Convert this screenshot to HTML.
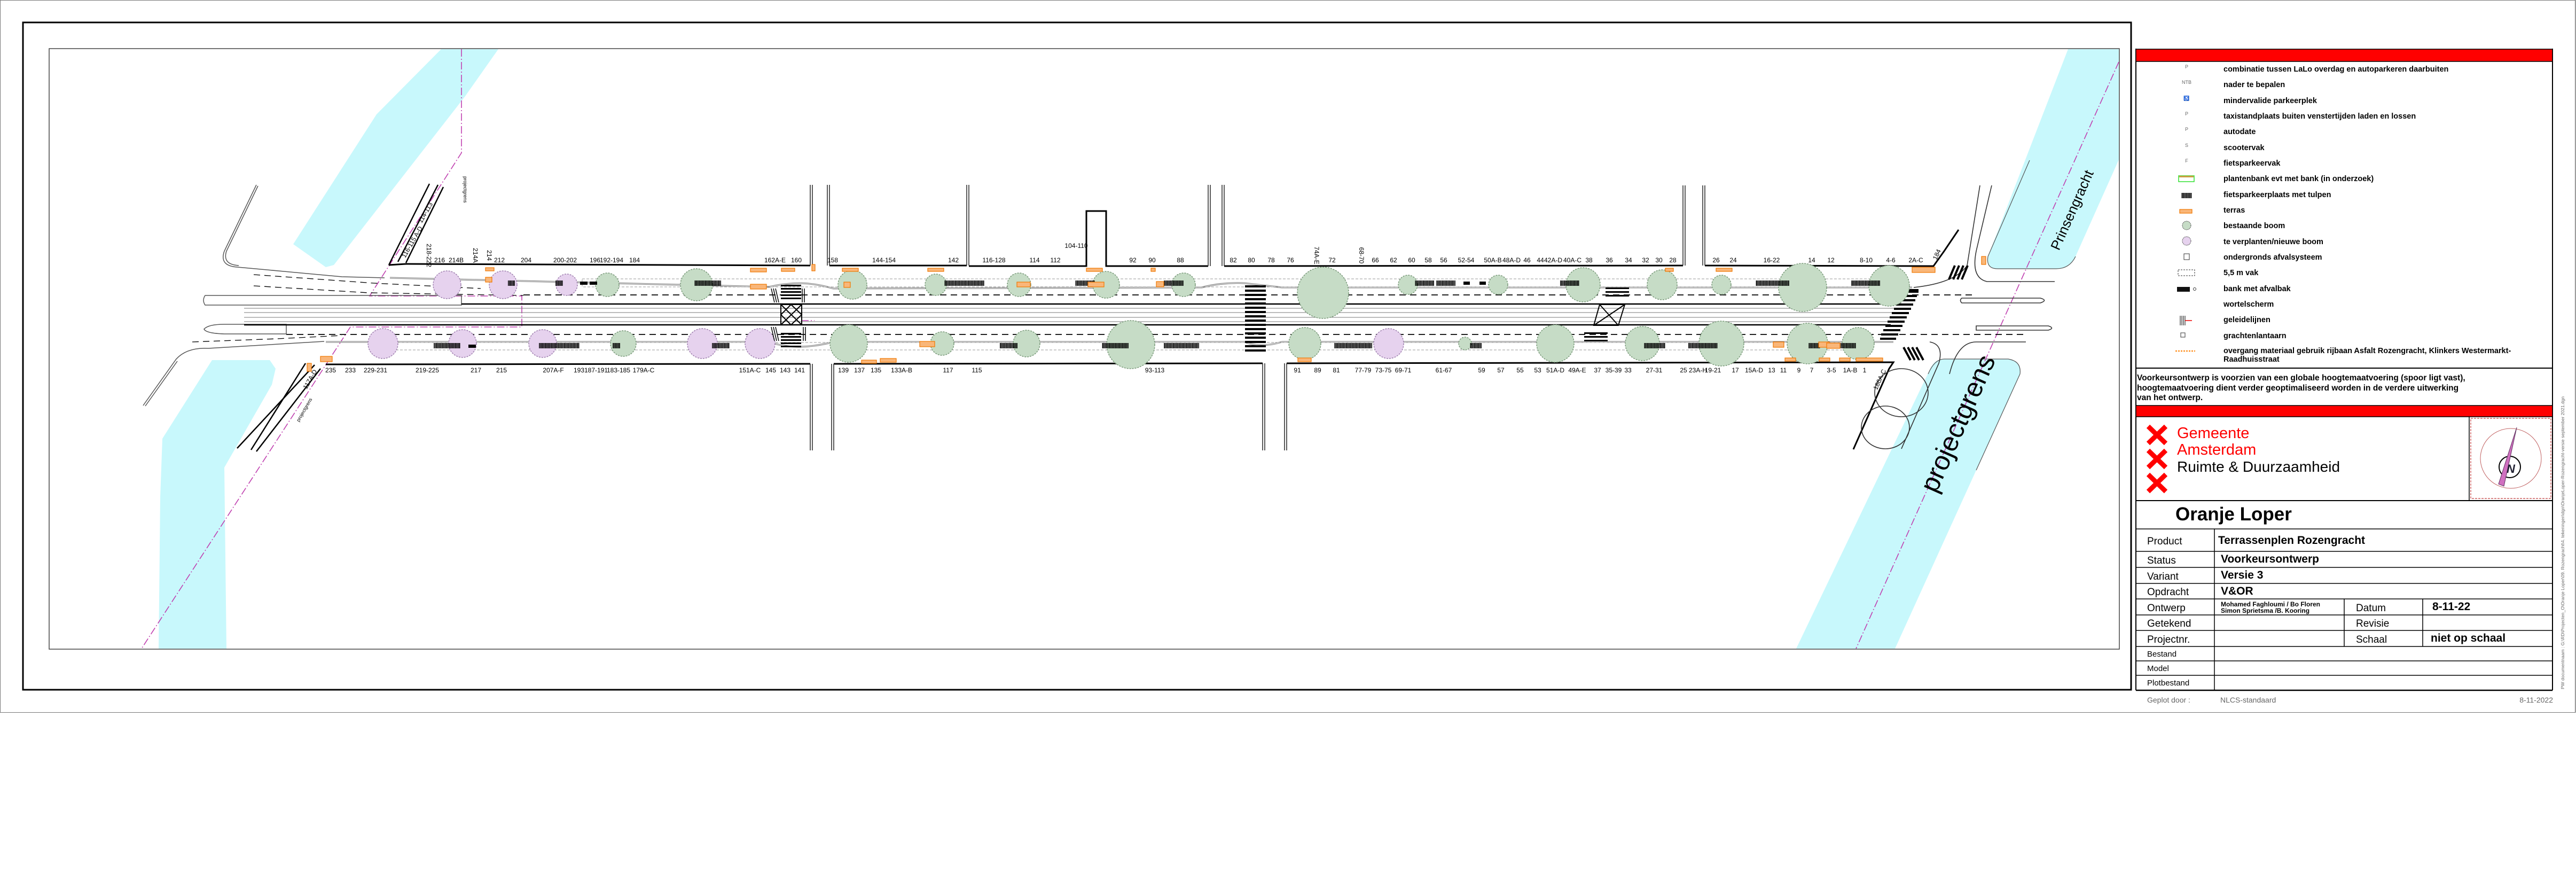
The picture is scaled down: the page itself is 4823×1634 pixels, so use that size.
<!DOCTYPE html>
<html><head><meta charset="utf-8"><style>
html,body{margin:0;padding:0;background:#fff;}
svg{display:block;}
text{font-family:"Liberation Sans",sans-serif;}
</style></head><body>
<svg width="4823" height="1634" viewBox="0 0 4823 1634" xmlns="http://www.w3.org/2000/svg">
<defs>
<pattern id="bars" width="2.4" height="10" patternUnits="userSpaceOnUse"><rect width="1.8" height="10" fill="#000"/></pattern>
</defs>
<!-- page borders -->
<rect x="0.5" y="0.5" width="4821" height="1333" fill="none" stroke="#777" stroke-width="1"/>
<rect x="43" y="42" width="3947" height="1249" fill="none" stroke="#000" stroke-width="3"/>
<rect x="92" y="91" width="3876" height="1124" fill="none" stroke="#444" stroke-width="1.5"/>

<!-- canals -->
<g fill="#c8f8fc">
<polygon points="826,92 933,92 871,180 625,496 610,500 549,457 705,214"/>
<polygon points="397,674 505,674 516,690 509,720 420,875 424,1214 297,1214 300,930 304,821"/>
<path d="M3872,92 L3967,92 L3967,299 L3886,480 Q3875,503 3850,503 L3740,503 Q3718,503 3722,480 Z"/>
<path d="M3640,672 L3760,672 Q3785,676 3782,700 L3548,1214 L3363,1214 L3614,690 Q3622,672 3640,672 Z"/>
</g>
<g fill="none" stroke="#555" stroke-width="1.2">
<path d="M3886,480 Q3875,503 3850,503 L3740,503 Q3718,503 3722,480 L3800,300"/>
<path d="M3610,700 Q3622,672 3640,672 L3760,672 Q3785,676 3782,700 L3700,880"/>
</g>

<!-- project boundary -->
<g fill="none" stroke="#c040b0" stroke-width="1.6" stroke-dasharray="14,4,2,4">
<polyline points="864,92 864,286 692,554 977,554 977,612 656,612 265,1214"/>
<polyline points="3967,116 3475,1214"/>
<line x1="1500" y1="600" x2="1525" y2="600"/>
</g>

<!-- west road curves -->
<g fill="none" stroke="#555" stroke-width="1.5">
<path d="M480,346 L420,470 Q410,498 445,500 L640,518 L720,520"/>
<path d="M483,348 L424,470 Q416,495 447,497"/>
<path d="M268,759 L330,672 Q350,650 390,652 L607,639"/>
<path d="M272,760 L332,676"/>
<path d="M384,553 L864,553 L864,571 L384,571 Q378,562 384,553 Z"/>
<path d="M382,616 Q390,607 420,607 L536,607 L536,625 L420,625 Q386,624 382,616 Z"/>
</g>
<g stroke="#000" stroke-width="2.5">
<line x1="728" y1="496" x2="804" y2="344"/><line x1="745" y1="490" x2="820" y2="346"/><line x1="760" y1="492" x2="830" y2="350"/>
<line x1="589" y1="683" x2="444" y2="839"/><line x1="572" y1="680" x2="470" y2="842"/><line x1="600" y1="690" x2="480" y2="845"/>
</g>
<g stroke="#000" stroke-width="1.3" fill="none" stroke-dasharray="12,8">
<path d="M475,514 L700,530 L900,540"/>
<path d="M475,535 L690,548 L980,553"/>
<path d="M360,640 L520,634 L640,628"/>
</g>

<!-- building lines -->
<g stroke="#000" stroke-width="3" fill="none">
<polyline points="728,496 760,494 1517,497"/>
<polyline points="1553,497 1810,497"/>
<polyline points="1814,498 2034,498 2034,395 2071,395 2071,498 2262,498"/>
<polyline points="2292,498 3151,497"/>
<polyline points="3192,497 3620,498 3640,470 3667,430"/>
<polyline points="610,682 1517,681"/>
<polyline points="1561,681 2364,680"/>
<polyline points="2409,680 3545,678 3537,690 3470,841"/>
</g>
<!-- side streets -->
<g stroke="#333" stroke-width="1.6" fill="none">
<line x1="1517" y1="346" x2="1517" y2="497"/><line x1="1521" y1="346" x2="1521" y2="497"/><line x1="1553" y1="346" x2="1553" y2="497"/><line x1="1549" y1="346" x2="1549" y2="497"/>
<line x1="1517" y1="681" x2="1517" y2="843"/><line x1="1521" y1="681" x2="1521" y2="843"/><line x1="1561" y1="681" x2="1561" y2="843"/><line x1="1557" y1="681" x2="1557" y2="843"/>
<line x1="1810" y1="346" x2="1810" y2="497"/><line x1="1814" y1="346" x2="1814" y2="497"/>
<line x1="2262" y1="346" x2="2262" y2="498"/><line x1="2266" y1="346" x2="2266" y2="498"/><line x1="2292" y1="346" x2="2292" y2="498"/><line x1="2288" y1="346" x2="2288" y2="498"/>
<line x1="2364" y1="680" x2="2364" y2="843"/><line x1="2368" y1="680" x2="2368" y2="843"/><line x1="2409" y1="680" x2="2409" y2="843"/><line x1="2405" y1="680" x2="2405" y2="843"/>
<line x1="3151" y1="347" x2="3151" y2="497"/><line x1="3155" y1="347" x2="3155" y2="497"/><line x1="3192" y1="347" x2="3192" y2="497"/><line x1="3188" y1="347" x2="3188" y2="497"/>
<path d="M3583,538 Q3660,530 3683,497 L3707,347"/><path d="M3729,347 L3700,470 Q3690,520 3720,527 L3847,527"/>
<path d="M3613,640 Q3640,645 3630,680 L3560,840"/><path d="M3650,700 Q3665,640 3700,640 L3793,640"/>
<path d="M3673,558 L3820,558 Q3835,562 3820,567 L3673,567 Q3668,562 3673,558 Z"/>
<path d="M3700,610 L3835,610 Q3848,614 3835,618 L3700,618 Z"/>
<ellipse cx="3560" cy="735" rx="50" ry="45"/><ellipse cx="3530" cy="800" rx="45" ry="40"/>
</g>

<!-- main carriageway -->
<g fill="none">
<path d="M730,520 L1440,537 Q1470,530 1500,530 Q1530,531 1560,540 L2250,538 Q2290,528 2330,530 L2400,538 L3580,538" stroke="#777" stroke-width="3"/>
<path d="M730,520 L1440,537 Q1470,530 1500,530 Q1530,531 1560,540 L2250,538 Q2290,528 2330,530 L2400,538 L3580,538" stroke="#fff" stroke-width="1"/>
<path d="M610,640 L1440,640 Q1470,650 1500,649 Q1530,648 1560,640 L2330,640 Q2360,652 2400,640 L3545,640" stroke="#777" stroke-width="3"/>
<path d="M610,640 L1440,640 Q1470,650 1500,649 Q1530,648 1560,640 L2330,640 Q2360,652 2400,640 L3545,640" stroke="#fff" stroke-width="1"/>
<line x1="980" y1="552" x2="3700" y2="552" stroke="#000" stroke-width="1.8" stroke-dasharray="12,8"/>
<line x1="536" y1="626" x2="3790" y2="626" stroke="#000" stroke-width="1.8" stroke-dasharray="12,8"/>
<line x1="864" y1="569" x2="3560" y2="569" stroke="#000" stroke-width="2.5"/>
<line x1="457" y1="608" x2="3540" y2="608" stroke="#000" stroke-width="2.5"/>
<g stroke="#777" stroke-width="1">
<line x1="457" y1="577" x2="3560" y2="577"/><line x1="457" y1="585" x2="3560" y2="585"/>
<line x1="457" y1="594" x2="3560" y2="594"/><line x1="457" y1="602" x2="3560" y2="602"/>
</g>
<g stroke="#999" stroke-width="1" stroke-dasharray="5,3">
<rect x="1090" y="522" width="2420" height="15"/>
<rect x="740" y="641" width="2760" height="14"/>
</g>
</g>

<!-- crossings -->
<g fill="#000">
<g id="z1"><rect x="1462" y="533" width="38" height="3"/><rect x="1462" y="539" width="38" height="3"/><rect x="1462" y="545" width="38" height="3"/><rect x="1462" y="551" width="38" height="3"/><rect x="1462" y="557" width="38" height="3"/></g>
<use href="#z1" y="90"/>
<g id="z2"><rect x="2331" y="534" width="39" height="4"/><rect x="2331" y="542" width="39" height="4"/><rect x="2331" y="550" width="39" height="4"/><rect x="2331" y="558" width="39" height="4"/></g>
<use href="#z2" y="32"/><use href="#z2" y="64"/><use href="#z2" y="96"/>
<rect x="3006" y="538" width="44" height="3"/><rect x="3006" y="545" width="44" height="3"/><rect x="3006" y="552" width="44" height="3"/>
<rect x="2966" y="622" width="44" height="3"/><rect x="2966" y="629" width="44" height="3"/><rect x="2966" y="636" width="44" height="3"/>
</g>
<g stroke="#000" stroke-width="2" fill="none">
<rect x="1462" y="570" width="39" height="38"/><path d="M1462,570 L1501,608 M1501,570 L1462,608 M1481,570 L1501,589 L1481,608 L1462,589 Z"/>
<path d="M2995,570 L3042,570 L3030,609 L2984,609 Z M2995,570 L3030,609 M3042,570 L2984,609"/>
</g>
<g stroke="#000" stroke-width="4">
<line x1="3592" y1="543" x2="3560" y2="543"/>
<path d="M3562,546 L3592,546 M3558,554 L3589,554 M3554,562 L3586,562 M3550,570 L3582,570 M3546,578 L3578,578 M3542,586 L3574,586 M3538,594 L3570,594 M3534,602 L3566,602 M3530,610 L3562,610 M3526,618 L3558,618 M3522,626 L3554,626 M3520,634 L3550,634"/>
<path d="M3657,523 L3668,497 M3665,523 L3676,497 M3673,523 L3684,497 M3649,523 L3660,497"/>
<path d="M3564,650 L3577,674 M3572,650 L3585,674 M3580,650 L3593,674 M3588,650 L3601,674"/>
</g>

<!-- trees -->
<g stroke="#7a9a7a" stroke-width="1.5" stroke-dasharray="3,2" fill="#c6dcc6">
<circle cx="1137" cy="533" r="22"/><circle cx="1304" cy="533" r="30"/><circle cx="1596" cy="533" r="27"/><circle cx="1752" cy="533" r="20"/><circle cx="1908" cy="533" r="22"/><circle cx="2071" cy="533" r="25"/><circle cx="2216" cy="533" r="22"/><circle cx="2477" cy="548" r="48"/><circle cx="2636" cy="533" r="18"/><circle cx="2805" cy="533" r="18"/><circle cx="2964" cy="533" r="32"/><circle cx="3112" cy="533" r="28"/><circle cx="3223" cy="533" r="18"/><circle cx="3375" cy="538" r="45"/><circle cx="3537" cy="535" r="38"/>
<circle cx="1167" cy="643" r="24"/><circle cx="1589" cy="643" r="35"/><circle cx="1764" cy="643" r="22"/><circle cx="1922" cy="643" r="25"/><circle cx="2117" cy="645" r="45"/><circle cx="2443" cy="643" r="30"/><circle cx="2743" cy="643" r="12"/><circle cx="2912" cy="643" r="35"/><circle cx="3075" cy="643" r="32"/><circle cx="3223" cy="643" r="42"/><circle cx="3384" cy="643" r="38"/><circle cx="3479" cy="643" r="30"/>
</g>
<g stroke="#a080b0" stroke-width="1.5" stroke-dasharray="3,2" fill="#e6d2ee">
<circle cx="837" cy="533" r="26"/><circle cx="942" cy="533" r="26"/><circle cx="1061" cy="533" r="20"/>
<circle cx="717" cy="643" r="28"/><circle cx="866" cy="643" r="26"/><circle cx="1016" cy="643" r="26"/><circle cx="1315" cy="643" r="28"/><circle cx="1423" cy="643" r="28"/><circle cx="2600" cy="643" r="28"/>
</g>

<!-- bike parking bars -->
<g fill="url(#bars)">
<rect x="951" y="525" width="13" height="10"/><rect x="1040" y="525" width="14" height="10"/><rect x="1300" y="525" width="50" height="10"/><rect x="1768" y="525" width="75" height="10"/><rect x="2013" y="525" width="37" height="10"/><rect x="2179" y="525" width="37" height="10"/><rect x="2649" y="525" width="36" height="10"/><rect x="2689" y="525" width="36" height="10"/><rect x="2921" y="525" width="36" height="10"/><rect x="3287" y="525" width="63" height="10"/><rect x="3466" y="525" width="54" height="10"/>
<rect x="812" y="642" width="50" height="10"/><rect x="1009" y="642" width="76" height="10"/><rect x="1147" y="642" width="14" height="10"/><rect x="1333" y="642" width="33" height="10"/><rect x="1872" y="642" width="33" height="10"/><rect x="2063" y="642" width="50" height="10"/><rect x="2179" y="642" width="66" height="10"/><rect x="2498" y="642" width="71" height="10"/><rect x="2752" y="642" width="22" height="10"/><rect x="3078" y="642" width="40" height="10"/><rect x="3161" y="642" width="55" height="10"/><rect x="3386" y="642" width="22" height="10"/><rect x="3439" y="642" width="36" height="10"/>
</g>
<g fill="#000"><rect x="1086" y="527" width="14" height="6"/><rect x="1104" y="527" width="14" height="6"/><rect x="877" y="645" width="14" height="6"/><rect x="2740" y="527" width="12" height="6"/><rect x="2770" y="527" width="12" height="6"/></g>

<!-- terraces -->
<g fill="#f9b679" stroke="#f07800" stroke-width="1.2">
<rect x="909" y="501" width="16" height="6"/><rect x="909" y="519" width="12" height="9"/><rect x="1405" y="532" width="30" height="9"/><rect x="1405" y="502" width="30" height="7"/><rect x="1463" y="502" width="25" height="6"/><rect x="1520" y="495" width="6" height="12"/><rect x="1577" y="502" width="30" height="6"/><rect x="1737" y="502" width="30" height="6"/><rect x="1580" y="528" width="12" height="10"/><rect x="1904" y="528" width="25" height="9"/><rect x="2034" y="502" width="30" height="6"/><rect x="2037" y="528" width="30" height="9"/><rect x="2165" y="527" width="14" height="10"/><rect x="2155" y="502" width="8" height="6"/><rect x="3118" y="502" width="15" height="6"/><rect x="3213" y="502" width="30" height="6"/><rect x="3580" y="500" width="43" height="10"/><rect x="3710" y="480" width="8" height="15"/>
<rect x="1722" y="639" width="28" height="10"/><rect x="1613" y="674" width="28" height="6"/><rect x="1648" y="671" width="30" height="7"/><rect x="2430" y="670" width="25" height="7"/><rect x="3320" y="640" width="20" height="10"/><rect x="3405" y="640" width="20" height="10"/><rect x="3406" y="670" width="20" height="6"/><rect x="3444" y="670" width="20" height="6"/><rect x="3475" y="670" width="50" height="6"/><rect x="3342" y="670" width="20" height="6"/><rect x="600" y="667" width="22" height="10"/><rect x="575" y="680" width="8" height="15"/><rect x="3420" y="642" width="25" height="10"/>
</g>
<!-- geleidelijnen -->
<g stroke="#000" stroke-width="1.5"><path d="M1444,540 L1450,566 M1448,540 L1454,566 M1452,540 L1458,566 M1502,540 L1502,566 M1506,540 L1506,566 M1444,612 L1450,638 M1448,612 L1454,638 M1452,612 L1458,638 M1504,612 L1504,638 M1508,612 L1508,638"/></g>

<!-- house numbers -->
<g font-size="12" text-anchor="middle" fill="#000">
<text x="823" y="491">216</text><text x="854" y="491">214B</text><text x="935" y="491">212</text><text x="985" y="491">204</text><text x="1058" y="491">200-202</text><text x="1114" y="491">196</text><text x="1145" y="491">192-194</text><text x="1188" y="491">184</text>
<text x="1451" y="491">162A-E</text><text x="1491" y="491">160</text><text x="1559" y="491">158</text><text x="1655" y="491">144-154</text><text x="1785" y="491">142</text><text x="1861" y="491">116-128</text><text x="1937" y="491">114</text><text x="1976" y="491">112</text><text x="2015" y="464">104-110</text><text x="2121" y="491">92</text><text x="2157" y="491">90</text><text x="2210" y="491">88</text><text x="2309" y="491">82</text><text x="2343" y="491">80</text><text x="2380" y="491">78</text><text x="2416" y="491">76</text><text x="2494" y="491">72</text><text x="2575" y="491">66</text>
<text x="2609" y="491">62</text><text x="2643" y="491">60</text><text x="2674" y="491">58</text><text x="2703" y="491">56</text><text x="2745" y="491">52-54</text><text x="2795" y="491">50A-B</text><text x="2830" y="491">48A-D</text><text x="2859" y="491">46</text><text x="2884" y="491">44</text><text x="2908" y="491">42A-D</text><text x="2944" y="491">40A-C</text><text x="2975" y="491">38</text><text x="3013" y="491">36</text><text x="3049" y="491">34</text><text x="3081" y="491">32</text><text x="3106" y="491">30</text><text x="3132" y="491">28</text><text x="3213" y="491">26</text><text x="3245" y="491">24</text><text x="3317" y="491">16-22</text><text x="3392" y="491">14</text><text x="3428" y="491">12</text><text x="3494" y="491">8-10</text><text x="3540" y="491">4-6</text><text x="3587" y="491">2A-C</text>
<text x="619" y="697">235</text><text x="656" y="697">233</text><text x="703" y="697">229-231</text><text x="800" y="697">219-225</text><text x="891" y="697">217</text><text x="939" y="697">215</text><text x="1036" y="697">207A-F</text><text x="1084" y="697">193</text><text x="1116" y="697">187-191</text><text x="1158" y="697">183-185</text><text x="1205" y="697">179A-C</text>
<text x="1404" y="697">151A-C</text><text x="1443" y="697">145</text><text x="1470" y="697">143</text><text x="1497" y="697">141</text><text x="1579" y="697">139</text><text x="1609" y="697">137</text><text x="1640" y="697">135</text><text x="1688" y="697">133A-B</text><text x="1775" y="697">117</text><text x="1829" y="697">115</text><text x="2162" y="697">93-113</text><text x="2429" y="697">91</text><text x="2467" y="697">89</text><text x="2502" y="697">81</text><text x="2552" y="697">77-79</text><text x="2590" y="697">73-75</text><text x="2627" y="697">69-71</text>
<text x="2703" y="697">61-67</text><text x="2774" y="697">59</text><text x="2810" y="697">57</text><text x="2846" y="697">55</text><text x="2879" y="697">53</text><text x="2912" y="697">51A-D</text><text x="2953" y="697">49A-E</text><text x="2991" y="697">37</text><text x="3021" y="697">35-39</text><text x="3048" y="697">33</text><text x="3097" y="697">27-31</text><text x="3152" y="697">25</text><text x="3179" y="697">23A-H</text><text x="3207" y="697">19-21</text><text x="3249" y="697">17</text><text x="3284" y="697">15A-D</text><text x="3317" y="697">13</text><text x="3339" y="697">11</text><text x="3368" y="697">9</text><text x="3392" y="697">7</text><text x="3429" y="697">3-5</text><text x="3464" y="697">1A-B</text><text x="3491" y="697">1</text>
<text transform="translate(799,478) rotate(90)">218-222</text><text transform="translate(886,478) rotate(90)">214A</text><text transform="translate(912,478) rotate(90)">214</text>
<text transform="translate(2461,478) rotate(90)">74A-E</text><text transform="translate(2545,478) rotate(90)">68-70</text>
<text transform="translate(3630,478) rotate(-65)">184</text>
<text transform="translate(584,712) rotate(-60)">117A-D</text>
<text transform="translate(3523,712) rotate(-65)">186A-C</text>
<text transform="translate(775,455) rotate(-60)">116-115 A-D</text>
<text transform="translate(800,400) rotate(-60)">114-113</text>
</g>
<g font-size="9" fill="#000">
<text transform="translate(868,330) rotate(90)">projectgrens</text>
<text transform="translate(560,790) rotate(-60)">projectgrens</text>
</g>
<text transform="translate(3855,470) rotate(-66)" font-size="26" fill="#000">Prinsengracht</text>
<text transform="translate(3625,925) rotate(-66)" font-size="50" fill="#000">projectgrens</text>

<!-- title block -->
<line x1="3999" y1="91" x2="3999" y2="1292" stroke="#000" stroke-width="2"/>
<line x1="4779" y1="91" x2="4779" y2="1292" stroke="#000" stroke-width="2"/>
<rect x="3999" y="92" width="780" height="23" fill="#ff0000" stroke="#000" stroke-width="1.5"/>
<line x1="3999" y1="689" x2="4779" y2="689" stroke="#000" stroke-width="2"/>
<rect x="3999" y="759" width="780" height="21" fill="#ff0000" stroke="#000" stroke-width="1.5"/>

<g font-size="9" fill="#666" text-anchor="middle">
<text x="4094" y="128">P</text><text x="4094" y="157">NTB</text><text x="4094" y="187">♿</text><text x="4094" y="216">P</text><text x="4094" y="245">P</text><text x="4094" y="275">S</text><text x="4094" y="304">F</text>
</g>
<rect x="4079" y="329" width="29" height="11" fill="#fff" stroke="#30e030" stroke-width="1.5"/><rect x="4080" y="329" width="27" height="3" fill="#c8a040"/>
<rect x="4084" y="361" width="20" height="10" fill="url(#bars)"/>
<rect x="4081" y="392" width="23" height="7" fill="#f9b679" stroke="#f07800" stroke-width="1.2"/>
<circle cx="4094" cy="422" r="8" fill="#c6dcc6" stroke="#555" stroke-dasharray="2,1"/>
<circle cx="4094" cy="451" r="8" fill="#e6d2ee" stroke="#555" stroke-dasharray="2,1"/>
<rect x="4089" y="475" width="10" height="11" fill="none" stroke="#333"/>
<rect x="4078" y="505" width="31" height="11" fill="none" stroke="#333" stroke-dasharray="3,2"/>
<rect x="4076" y="537" width="24" height="9" fill="#111"/><circle cx="4109" cy="541" r="2.5" fill="none" stroke="#333"/>
<path d="M4082,591 v18 M4085,591 v18 M4088,591 v18 M4091,591 v18 M4091,600 h12" stroke="#000" stroke-width="1"/><path d="M4091,600 h13" stroke="#e00" stroke-width="1.5"/>
<rect x="4083" y="623" width="8" height="8" fill="none" stroke="#333"/>
<line x1="4073" y1="657" x2="4110" y2="657" stroke="#ff8000" stroke-width="2" stroke-dasharray="3,2"/>

<g font-size="14.5" font-weight="bold" fill="#000">
<text x="4163" y="134">combinatie tussen LaLo overdag en autoparkeren daarbuiten</text>
<text x="4163" y="163">nader te bepalen</text>
<text x="4163" y="193">mindervalide parkeerplek</text>
<text x="4163" y="222">taxistandplaats buiten venstertijden laden en lossen</text>
<text x="4163" y="251">autodate</text>
<text x="4163" y="281">scootervak</text>
<text x="4163" y="310">fietsparkeervak</text>
<text x="4163" y="339">plantenbank evt met bank (in onderzoek)</text>
<text x="4163" y="369">fietsparkeerplaats met tulpen</text>
<text x="4163" y="398">terras</text>
<text x="4163" y="427">bestaande boom</text>
<text x="4163" y="457">te verplanten/nieuwe boom</text>
<text x="4163" y="486">ondergronds afvalsysteem</text>
<text x="4163" y="515">5,5 m vak</text>
<text x="4163" y="545">bank met afvalbak</text>
<text x="4163" y="574">wortelscherm</text>
<text x="4163" y="603">geleidelijnen</text>
<text x="4163" y="633">grachtenlantaarn</text>
<text x="4163" y="661">overgang materiaal gebruik rijbaan Asfalt Rozengracht, Klinkers Westermarkt-</text>
<text x="4163" y="677">Raadhuisstraat</text>
</g>
<g font-size="15.5" font-weight="bold" fill="#000">
<text x="4001" y="712">Voorkeursontwerp is voorzien van een globale hoogtemaatvoering (spoor ligt vast),</text>
<text x="4001" y="731">hoogtemaatvoering dient verder geoptimaliseerd worden in de verdere uitwerking</text>
<text x="4001" y="749">van het ontwerp.</text>
</g>

<!-- logo -->
<g stroke="#ff0000" stroke-width="9" stroke-linecap="butt">
<path d="M4022,798 L4055,830 M4055,798 L4022,830"/>
<path d="M4022,843 L4055,875 M4055,843 L4022,875"/>
<path d="M4022,888 L4055,920 M4055,888 L4022,920"/>
</g>
<text x="4076" y="820" font-size="29" fill="#ff0000">Gemeente</text>
<text x="4076" y="851" font-size="29" fill="#ff0000">Amsterdam</text>
<text x="4076" y="883" font-size="28" fill="#000">Ruimte &amp; Duurzaamheid</text>
<line x1="4623" y1="780" x2="4623" y2="937" stroke="#000" stroke-width="1.5"/>
<rect x="4626" y="783" width="150" height="150" fill="none" stroke="#c04040" stroke-width="1.2" stroke-dasharray="4,2"/>
<ellipse cx="4701" cy="858" rx="57" ry="56" fill="none" stroke="#c06060" stroke-width="1"/>
<circle cx="4699" cy="874" r="20" fill="none" stroke="#000" stroke-width="2"/>
<polygon points="4712,800 4688,910 4678,906" fill="#d070c0" stroke="#603060"/>
<text x="4693" y="885" font-size="22" font-weight="bold" font-style="italic" fill="#223">N</text>

<line x1="3999" y1="937" x2="4779" y2="937" stroke="#000" stroke-width="2"/>
<text x="4073" y="974" font-size="35" font-weight="bold" fill="#000">Oranje Loper</text>
<g stroke="#000" stroke-width="1.5">
<line x1="3999" y1="990" x2="4779" y2="990"/><line x1="3999" y1="1032" x2="4779" y2="1032"/><line x1="3999" y1="1062" x2="4779" y2="1062"/><line x1="3999" y1="1092" x2="4779" y2="1092"/><line x1="3999" y1="1121" x2="4779" y2="1121"/><line x1="3999" y1="1151" x2="4779" y2="1151"/><line x1="3999" y1="1180" x2="4779" y2="1180"/><line x1="3999" y1="1210" x2="4779" y2="1210"/><line x1="3999" y1="1237" x2="4779" y2="1237"/><line x1="3999" y1="1264" x2="4779" y2="1264"/><line x1="3999" y1="1292" x2="4779" y2="1292" stroke-width="2.5"/>
<line x1="4146" y1="990" x2="4146" y2="1292"/><line x1="4389" y1="1121" x2="4389" y2="1210"/><line x1="4536" y1="1121" x2="4536" y2="1210"/>
</g>
<g font-size="19" fill="#000">
<text x="4020" y="1019">Product</text><text x="4020" y="1055">Status</text><text x="4020" y="1085">Variant</text><text x="4020" y="1114">Opdracht</text><text x="4020" y="1144">Ontwerp</text><text x="4020" y="1173">Getekend</text><text x="4020" y="1203">Projectnr.</text>
<text x="4411" y="1144">Datum</text><text x="4411" y="1173">Revisie</text><text x="4411" y="1203">Schaal</text>
</g>
<g font-size="15" fill="#000"><text x="4020" y="1229">Bestand</text><text x="4020" y="1256">Model</text><text x="4020" y="1283">Plotbestand</text></g>
<g font-size="21" font-weight="bold" fill="#000">
<text x="4153" y="1018">Terrassenplen Rozengracht</text><text x="4158" y="1053">Voorkeursontwerp</text><text x="4158" y="1083">Versie 3</text><text x="4158" y="1113">V&amp;OR</text>
<text x="4554" y="1142">8-11-22</text><text x="4551" y="1201">niet op schaal</text>
</g>
<g font-size="12" font-weight="bold" fill="#000"><text x="4158" y="1135">Mohamed Faghloumi / Bo Floren</text><text x="4158" y="1147">Simon Sprietsma /B. Kooring</text></g>
<g font-size="14" fill="#666"><text x="4020" y="1315">Geplot door :</text><text x="4157" y="1315">NLCS-standaard</text><text x="4780" y="1315" text-anchor="end">8-11-2022</text></g>
<text transform="translate(4801,1290) rotate(-90)" font-size="8.5" fill="#666">PW documentnaam :   G:\RD\Projecten_O\Oranje Loper\09. Rozengracht\4. tekeningen\dgn\OranjeLoper-Rozengracht-versie september 2021.dgn</text>
<line x1="4822" y1="0" x2="4822" y2="1334" stroke="#777"/>
</svg>
</body></html>
